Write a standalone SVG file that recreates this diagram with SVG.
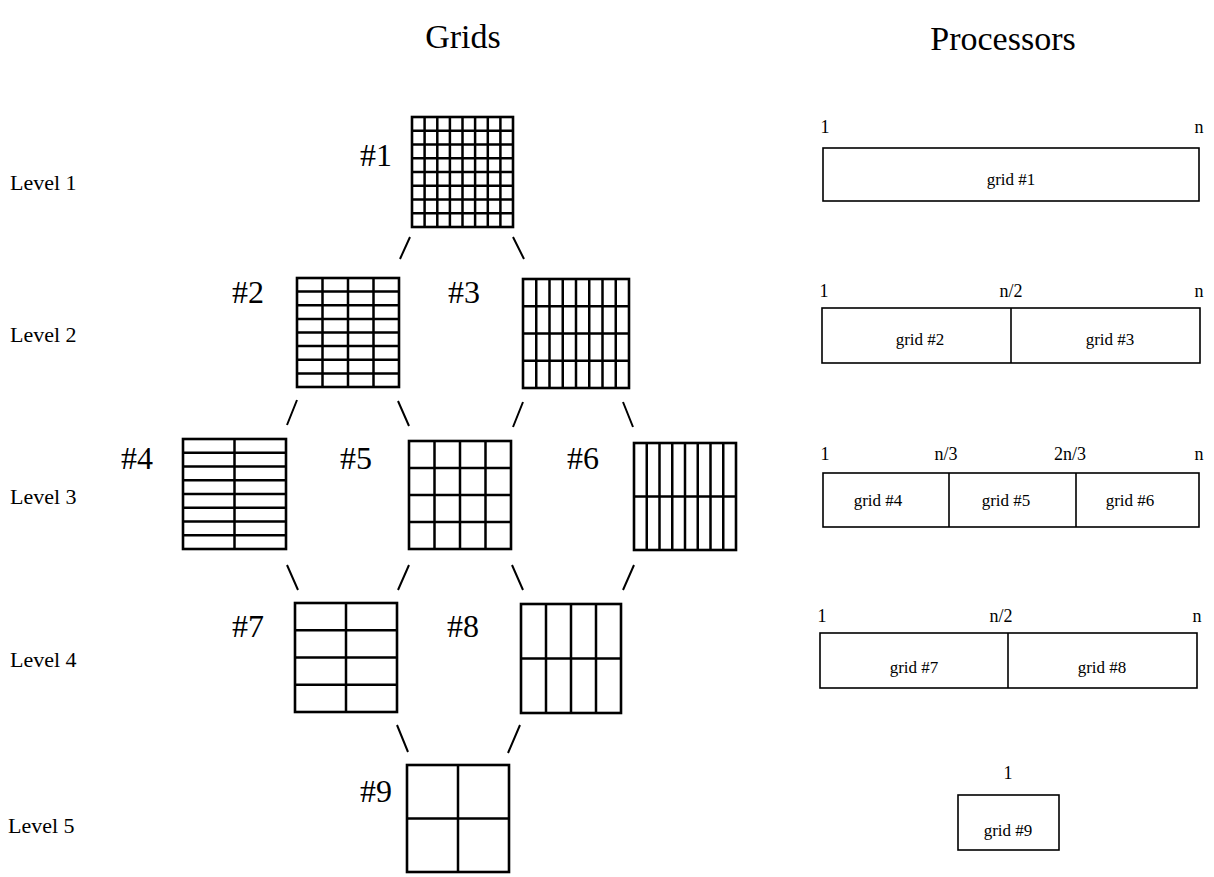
<svg xmlns="http://www.w3.org/2000/svg" width="1214" height="877" viewBox="0 0 1214 877">
<style>
text{font-family:"Liberation Serif","Times New Roman",serif;fill:#000}
.hd{font-size:34px;text-anchor:middle}
.lv{font-size:22px}
.gl{font-size:32px}
.pl{font-size:17px;text-anchor:middle}
.tk{font-size:18px;text-anchor:middle}
.g{fill:#fff;stroke:#000;stroke-width:2.6}
.gi{fill:none;stroke:#000;stroke-width:2.5}
.b{fill:#fff;stroke:#000;stroke-width:1.6}
.c{stroke:#000;stroke-width:2;fill:none}
</style>
<rect width="1214" height="877" fill="#fff"/>
<text class="hd" x="463" y="48">Grids</text>
<text class="hd" x="1003" y="50">Processors</text>
<g id="levels">
<text class="lv" x="10" y="190">Level 1</text>
<text class="lv" x="10" y="342">Level 2</text>
<text class="lv" x="10" y="504">Level 3</text>
<text class="lv" x="10" y="667">Level 4</text>
<text class="lv" x="8" y="833">Level 5</text>
</g>
<g id="connectors">
<path class="c" d="M410 237L400 259M513 237L524 259"/>
<path class="c" d="M297 400L287 425M398 401L409 426M523 402L513 427M623 402L633 427"/>
<path class="c" d="M287 565L298 590M409 565L398 590M512 565L523 590M634 565L623 590"/>
<path class="c" d="M397 725L408 752M520 725L508 753"/>
</g>
<g id="grid1">
<rect class="g" x="412" y="117" width="101" height="110"/>
<path class="gi" d="M424.6 117V227M437.3 117V227M449.9 117V227M462.5 117V227M475.1 117V227M487.8 117V227M500.4 117V227M412 130.75H513M412 144.5H513M412 158.25H513M412 172H513M412 185.75H513M412 199.5H513M412 213.25H513"/>
<text class="gl" x="360" y="166">#1</text>
</g>
<g id="grid2">
<rect class="g" x="297" y="278" width="102" height="109"/>
<path class="gi" d="M322.5 278V387M348 278V387M373.5 278V387M297 291.6H399M297 305.3H399M297 318.9H399M297 332.5H399M297 346.1H399M297 359.8H399M297 373.4H399"/>
<text class="gl" x="232" y="303">#2</text>
</g>
<g id="grid3">
<rect class="g" x="523" y="279" width="106" height="109"/>
<path class="gi" d="M536.25 279V388M549.5 279V388M562.75 279V388M576 279V388M589.25 279V388M602.5 279V388M615.75 279V388M523 306.25H629M523 333.5H629M523 360.75H629"/>
<text class="gl" x="448" y="303">#3</text>
</g>
<g id="grid4">
<rect class="g" x="183" y="439" width="103" height="110"/>
<path class="gi" d="M234.5 439V549M183 452.75H286M183 466.5H286M183 480.25H286M183 494H286M183 507.75H286M183 521.5H286M183 535.25H286"/>
<text class="gl" x="121" y="469">#4</text>
</g>
<g id="grid5">
<rect class="g" x="409" y="441" width="102" height="108"/>
<path class="gi" d="M434.5 441V549M460 441V549M485.5 441V549M409 468H511M409 495H511M409 522H511"/>
<text class="gl" x="340" y="469">#5</text>
</g>
<g id="grid6">
<rect class="g" x="634" y="443" width="102" height="107"/>
<path class="gi" d="M646.75 443V550M659.5 443V550M672.25 443V550M685 443V550M697.75 443V550M710.5 443V550M723.25 443V550M634 496.5H736"/>
<text class="gl" x="567" y="469">#6</text>
</g>
<g id="grid7">
<rect class="g" x="295" y="603" width="102" height="109"/>
<path class="gi" d="M346 603V712M295 630.25H397M295 657.5H397M295 684.75H397"/>
<text class="gl" x="232" y="637">#7</text>
</g>
<g id="grid8">
<rect class="g" x="521" y="604" width="100" height="109"/>
<path class="gi" d="M546 604V713M571 604V713M596 604V713M521 658.5H621"/>
<text class="gl" x="447" y="637">#8</text>
</g>
<g id="grid9">
<rect class="g" x="407" y="765" width="102" height="107"/>
<path class="gi" d="M458 765V872M407 818.5H509"/>
<text class="gl" x="360" y="802">#9</text>
</g>
<g id="proc1">
<text class="tk" x="825" y="133">1</text>
<text class="tk" x="1199" y="133">n</text>
<rect class="b" x="823" y="148" width="376" height="53"/>
<text class="pl" x="1011" y="185">grid #1</text>
</g>
<g id="proc2">
<text class="tk" x="824" y="297">1</text>
<text class="tk" x="1011" y="297">n/2</text>
<text class="tk" x="1199" y="297">n</text>
<rect class="b" x="822" y="308" width="378" height="55"/>
<path class="b" d="M1011 308V363"/>
<text class="pl" x="920" y="345">grid #2</text>
<text class="pl" x="1110" y="345">grid #3</text>
</g>
<g id="proc3">
<text class="tk" x="825" y="460">1</text>
<text class="tk" x="946" y="460">n/3</text>
<text class="tk" x="1070" y="460">2n/3</text>
<text class="tk" x="1199" y="460">n</text>
<rect class="b" x="823" y="473" width="376" height="54"/>
<path class="b" d="M949 473V527M1076 473V527"/>
<text class="pl" x="878" y="506">grid #4</text>
<text class="pl" x="1006" y="506">grid #5</text>
<text class="pl" x="1130" y="506">grid #6</text>
</g>
<g id="proc4">
<text class="tk" x="822" y="622">1</text>
<text class="tk" x="1001" y="622">n/2</text>
<text class="tk" x="1197" y="622">n</text>
<rect class="b" x="820" y="633" width="377" height="55"/>
<path class="b" d="M1008 633V688"/>
<text class="pl" x="914" y="673">grid #7</text>
<text class="pl" x="1102" y="673">grid #8</text>
</g>
<g id="proc5">
<text class="tk" x="1008" y="779">1</text>
<rect class="b" x="958" y="795" width="101" height="55"/>
<text class="pl" x="1008" y="836">grid #9</text>
</g>
</svg>
